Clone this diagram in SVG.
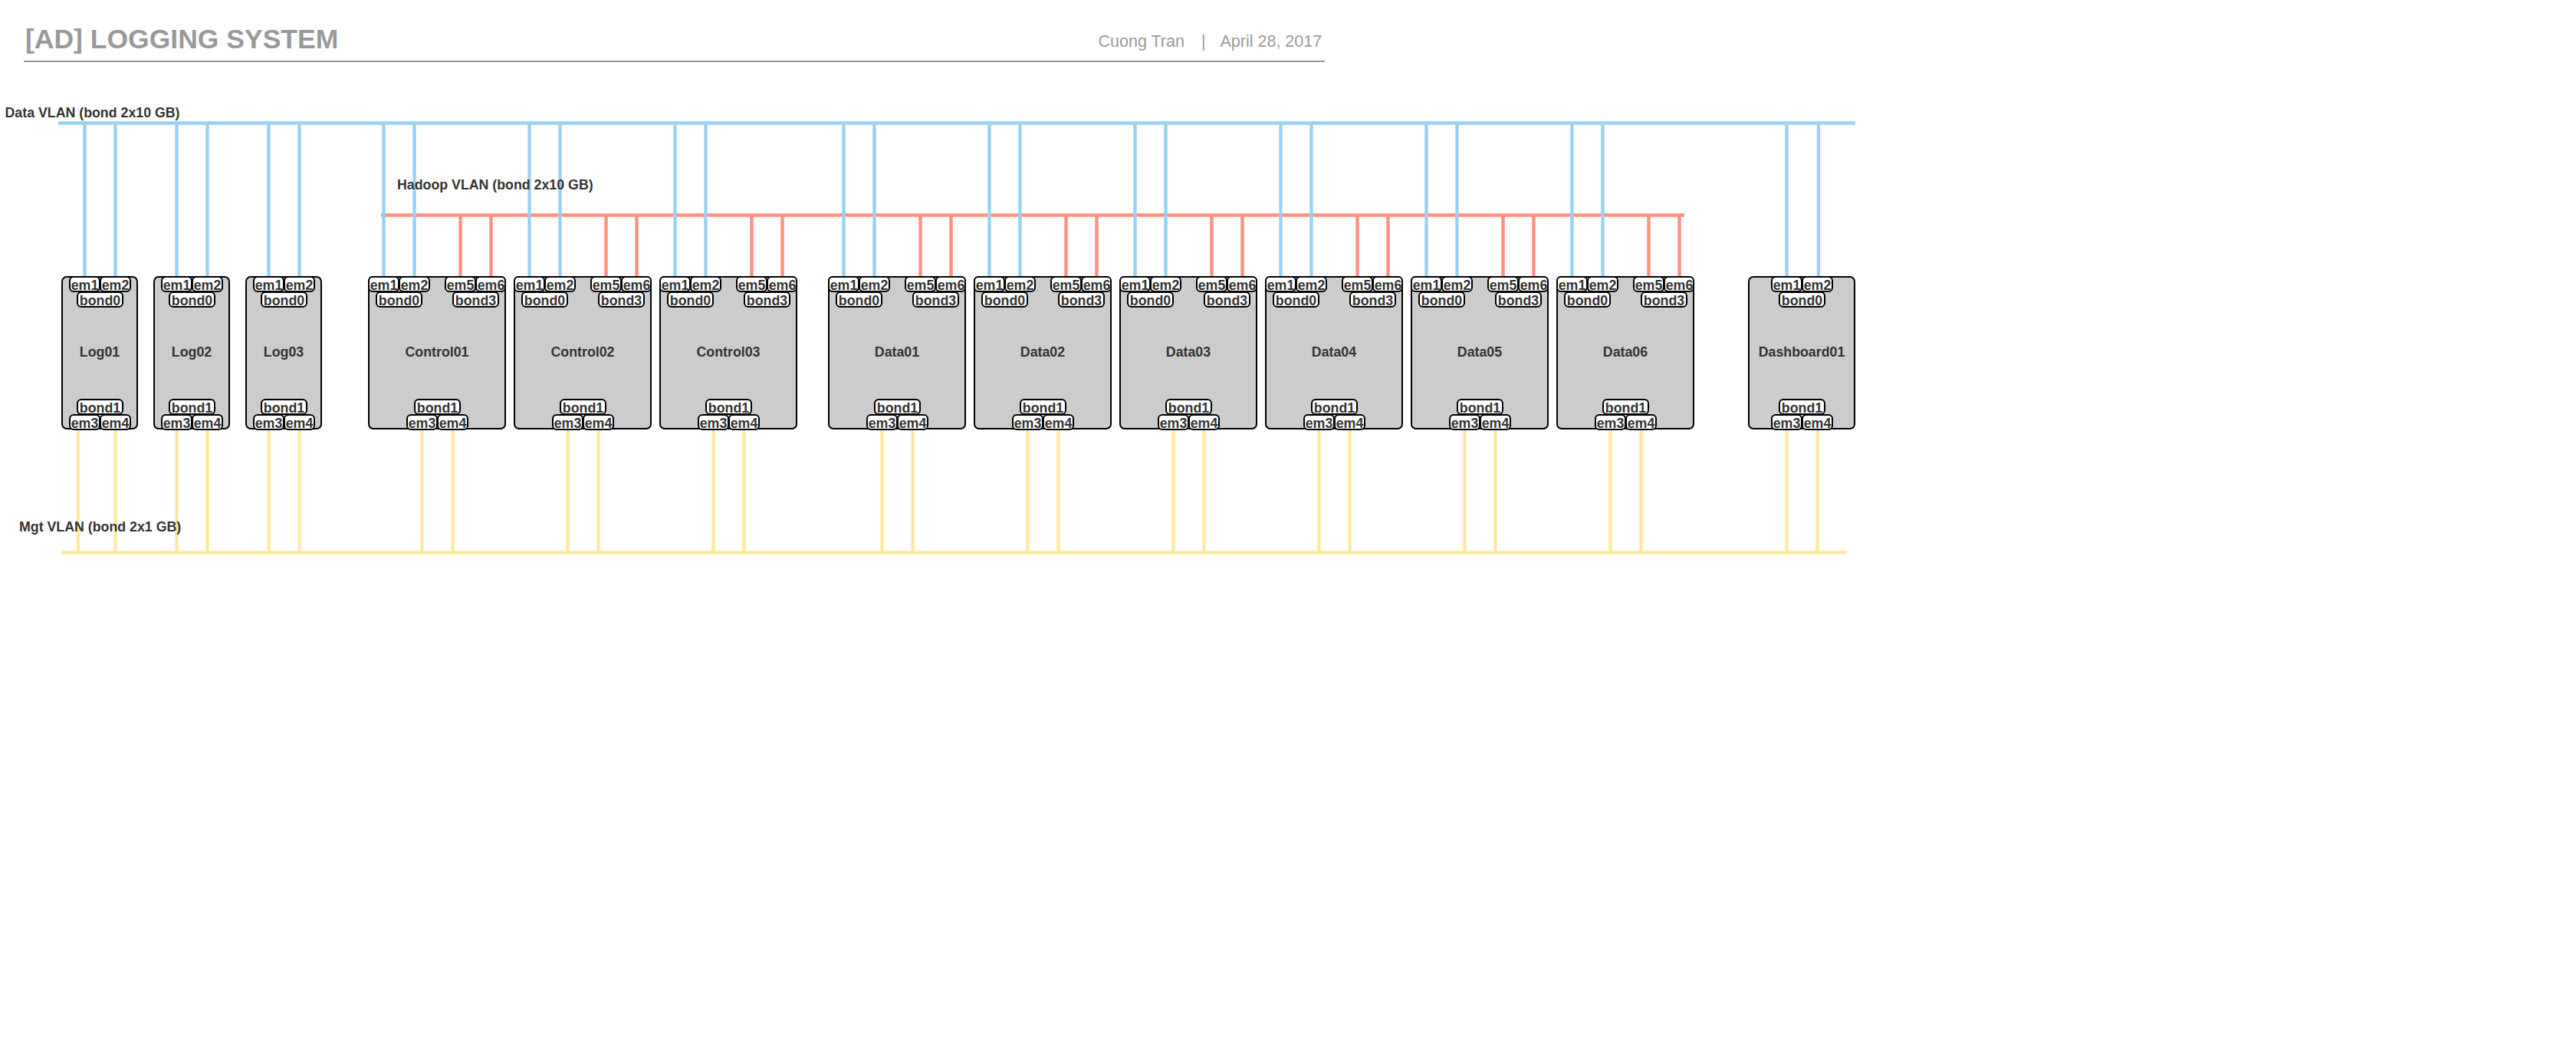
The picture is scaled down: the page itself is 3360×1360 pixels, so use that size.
<svg xmlns="http://www.w3.org/2000/svg" width="3360" height="1360" viewBox="0 0 3360 1360">
<style>
.title{font-family:"Liberation Sans",Arial,sans-serif;font-weight:bold;font-size:35.5px;fill:#999999}
.sub{font-family:"Liberation Sans",Arial,sans-serif;font-size:21.5px;fill:#999999}
.vl{font-family:"Liberation Sans",Arial,sans-serif;font-weight:bold;font-size:17.78px;fill:#333333}
.node{fill:#cccccc;stroke:#000000;stroke-width:2}
.port{fill:#ffffff;stroke:#000000;stroke-width:2}
.pt{font-family:"Liberation Sans",Arial,sans-serif;font-weight:bold;font-size:17.78px;fill:#333333;text-anchor:middle}
.nl{font-family:"Liberation Sans",Arial,sans-serif;font-weight:bold;font-size:17.78px;fill:#333333;text-anchor:middle}
.blue{stroke:#99D1F2;stroke-width:4.4;fill:none}
.red{stroke:#FF9080;stroke-width:4.4;fill:none}
.yel{stroke:#FFE89E;stroke-width:4.4;fill:none}
.bus{stroke-width:4.5}
</style>
<rect width="3360" height="1360" fill="#ffffff"/>
<g id="header">
<text class="title" x="33" y="63">[AD] LOGGING SYSTEM</text>
<text class="sub" y="60.5"><tspan x="1432.5">Cuong Tran </tspan><tspan x="1567">| </tspan><tspan x="1591.5">April 28, 2017</tspan></text>
<line x1="31" y1="80" x2="1728" y2="80" stroke="#999999" stroke-width="2"/>
</g>
<g id="connectors">
<line class="red bus" x1="497" y1="280.5" x2="2197" y2="280.5"/>
<line class="blue bus" x1="76" y1="160.5" x2="2420" y2="160.5"/>
<line class="yel bus" x1="80" y1="720.5" x2="2409" y2="720.5"/>
<g class="red">
<line x1="600.5" y1="280" x2="600.5" y2="361"/><line x1="640.5" y1="280" x2="640.5" y2="361"/>
<line x1="790.5" y1="280" x2="790.5" y2="361"/><line x1="830.5" y1="280" x2="830.5" y2="361"/>
<line x1="980.5" y1="280" x2="980.5" y2="361"/><line x1="1020.5" y1="280" x2="1020.5" y2="361"/>
<line x1="1200.5" y1="280" x2="1200.5" y2="361"/><line x1="1240.5" y1="280" x2="1240.5" y2="361"/>
<line x1="1390.5" y1="280" x2="1390.5" y2="361"/><line x1="1430.5" y1="280" x2="1430.5" y2="361"/>
<line x1="1580.5" y1="280" x2="1580.5" y2="361"/><line x1="1620.5" y1="280" x2="1620.5" y2="361"/>
<line x1="1770.5" y1="280" x2="1770.5" y2="361"/><line x1="1810.5" y1="280" x2="1810.5" y2="361"/>
<line x1="1960.5" y1="280" x2="1960.5" y2="361"/><line x1="2000.5" y1="280" x2="2000.5" y2="361"/>
<line x1="2150.5" y1="280" x2="2150.5" y2="361"/><line x1="2190.5" y1="280" x2="2190.5" y2="361"/>
</g>
<g class="blue">
<line x1="110.5" y1="160" x2="110.5" y2="361"/><line x1="150.5" y1="160" x2="150.5" y2="361"/>
<line x1="230.5" y1="160" x2="230.5" y2="361"/><line x1="270.5" y1="160" x2="270.5" y2="361"/>
<line x1="350.5" y1="160" x2="350.5" y2="361"/><line x1="390.5" y1="160" x2="390.5" y2="361"/>
<line x1="500.5" y1="160" x2="500.5" y2="361"/><line x1="540.5" y1="160" x2="540.5" y2="361"/>
<line x1="690.5" y1="160" x2="690.5" y2="361"/><line x1="730.5" y1="160" x2="730.5" y2="361"/>
<line x1="880.5" y1="160" x2="880.5" y2="361"/><line x1="920.5" y1="160" x2="920.5" y2="361"/>
<line x1="1100.5" y1="160" x2="1100.5" y2="361"/><line x1="1140.5" y1="160" x2="1140.5" y2="361"/>
<line x1="1290.5" y1="160" x2="1290.5" y2="361"/><line x1="1330.5" y1="160" x2="1330.5" y2="361"/>
<line x1="1480.5" y1="160" x2="1480.5" y2="361"/><line x1="1520.5" y1="160" x2="1520.5" y2="361"/>
<line x1="1670.5" y1="160" x2="1670.5" y2="361"/><line x1="1710.5" y1="160" x2="1710.5" y2="361"/>
<line x1="1860.5" y1="160" x2="1860.5" y2="361"/><line x1="1900.5" y1="160" x2="1900.5" y2="361"/>
<line x1="2050.5" y1="160" x2="2050.5" y2="361"/><line x1="2090.5" y1="160" x2="2090.5" y2="361"/>
<line x1="2330.5" y1="160" x2="2330.5" y2="361"/><line x1="2372" y1="160" x2="2372" y2="361"/>
</g>
<g class="yel">
<line x1="102" y1="559" x2="102" y2="720"/><line x1="150.5" y1="559" x2="150.5" y2="720"/>
<line x1="230.5" y1="559" x2="230.5" y2="720"/><line x1="270.5" y1="559" x2="270.5" y2="720"/>
<line x1="350.5" y1="559" x2="350.5" y2="720"/><line x1="390.5" y1="559" x2="390.5" y2="720"/>
<line x1="550.5" y1="559" x2="550.5" y2="720"/><line x1="590.5" y1="559" x2="590.5" y2="720"/>
<line x1="740.5" y1="559" x2="740.5" y2="720"/><line x1="780.5" y1="559" x2="780.5" y2="720"/>
<line x1="930.5" y1="559" x2="930.5" y2="720"/><line x1="970.5" y1="559" x2="970.5" y2="720"/>
<line x1="1150.5" y1="559" x2="1150.5" y2="720"/><line x1="1190.5" y1="559" x2="1190.5" y2="720"/>
<line x1="1340.5" y1="559" x2="1340.5" y2="720"/><line x1="1380.5" y1="559" x2="1380.5" y2="720"/>
<line x1="1530.5" y1="559" x2="1530.5" y2="720"/><line x1="1570.5" y1="559" x2="1570.5" y2="720"/>
<line x1="1720.5" y1="559" x2="1720.5" y2="720"/><line x1="1760.5" y1="559" x2="1760.5" y2="720"/>
<line x1="1910.5" y1="559" x2="1910.5" y2="720"/><line x1="1950.5" y1="559" x2="1950.5" y2="720"/>
<line x1="2100.5" y1="559" x2="2100.5" y2="720"/><line x1="2140.5" y1="559" x2="2140.5" y2="720"/>
<line x1="2330.5" y1="559" x2="2330.5" y2="720"/><line x1="2370.5" y1="559" x2="2370.5" y2="720"/>
</g>
</g>
<g id="vlan-labels">
<text class="vl" x="6.5" y="153.3">Data VLAN (bond 2x10 GB)</text>
<text class="vl" x="518" y="247.3">Hadoop VLAN (bond 2x10 GB)</text>
<text class="vl" x="25" y="693">Mgt VLAN (bond 2x1 GB)</text>
</g>
<g id="Log01">
<rect class="node" x="81" y="361" width="98" height="198" rx="6"/>
<rect class="port" x="91" y="361" width="39" height="19" rx="5"/><text class="pt" x="110.5" y="377.5">em1</text>
<rect class="port" x="131" y="361" width="39" height="19" rx="5"/><text class="pt" x="150.5" y="377.5">em2</text>
<rect class="port" x="101" y="381" width="59" height="19" rx="5"/><text class="pt" x="130.5" y="397.5">bond0</text>
<text class="nl" x="130" y="464.5">Log01</text>
<rect class="port" x="101" y="521" width="59" height="19" rx="5"/><text class="pt" x="130.5" y="537.5">bond1</text>
<rect class="port" x="91" y="541" width="39" height="19" rx="5"/><text class="pt" x="110.5" y="557.5">em3</text>
<rect class="port" x="131" y="541" width="39" height="19" rx="5"/><text class="pt" x="150.5" y="557.5">em4</text>
</g>
<g id="Log02">
<rect class="node" x="201" y="361" width="98" height="198" rx="6"/>
<rect class="port" x="211" y="361" width="39" height="19" rx="5"/><text class="pt" x="230.5" y="377.5">em1</text>
<rect class="port" x="251" y="361" width="39" height="19" rx="5"/><text class="pt" x="270.5" y="377.5">em2</text>
<rect class="port" x="221" y="381" width="59" height="19" rx="5"/><text class="pt" x="250.5" y="397.5">bond0</text>
<text class="nl" x="250" y="464.5">Log02</text>
<rect class="port" x="221" y="521" width="59" height="19" rx="5"/><text class="pt" x="250.5" y="537.5">bond1</text>
<rect class="port" x="211" y="541" width="39" height="19" rx="5"/><text class="pt" x="230.5" y="557.5">em3</text>
<rect class="port" x="251" y="541" width="39" height="19" rx="5"/><text class="pt" x="270.5" y="557.5">em4</text>
</g>
<g id="Log03">
<rect class="node" x="321" y="361" width="98" height="198" rx="6"/>
<rect class="port" x="331" y="361" width="39" height="19" rx="5"/><text class="pt" x="350.5" y="377.5">em1</text>
<rect class="port" x="371" y="361" width="39" height="19" rx="5"/><text class="pt" x="390.5" y="377.5">em2</text>
<rect class="port" x="341" y="381" width="59" height="19" rx="5"/><text class="pt" x="370.5" y="397.5">bond0</text>
<text class="nl" x="370" y="464.5">Log03</text>
<rect class="port" x="341" y="521" width="59" height="19" rx="5"/><text class="pt" x="370.5" y="537.5">bond1</text>
<rect class="port" x="331" y="541" width="39" height="19" rx="5"/><text class="pt" x="350.5" y="557.5">em3</text>
<rect class="port" x="371" y="541" width="39" height="19" rx="5"/><text class="pt" x="390.5" y="557.5">em4</text>
</g>
<g id="Control01">
<rect class="node" x="481" y="361" width="178" height="198" rx="6"/>
<rect class="port" x="481" y="361" width="39" height="19" rx="5"/><text class="pt" x="500.5" y="377.5">em1</text>
<rect class="port" x="521" y="361" width="39" height="19" rx="5"/><text class="pt" x="540.5" y="377.5">em2</text>
<rect class="port" x="581" y="361" width="39" height="19" rx="5"/><text class="pt" x="600.5" y="377.5">em5</text>
<rect class="port" x="621" y="361" width="38" height="19" rx="5"/><text class="pt" x="640.5" y="377.5">em6</text>
<rect class="port" x="491" y="381" width="59" height="19" rx="5"/><text class="pt" x="520.5" y="397.5">bond0</text>
<rect class="port" x="591" y="381" width="59" height="19" rx="5"/><text class="pt" x="620.5" y="397.5">bond3</text>
<text class="nl" x="570" y="464.5">Control01</text>
<rect class="port" x="541" y="521" width="59" height="19" rx="5"/><text class="pt" x="570.5" y="537.5">bond1</text>
<rect class="port" x="531" y="541" width="39" height="19" rx="5"/><text class="pt" x="550.5" y="557.5">em3</text>
<rect class="port" x="571" y="541" width="39" height="19" rx="5"/><text class="pt" x="590.5" y="557.5">em4</text>
</g>
<g id="Control02">
<rect class="node" x="671" y="361" width="178" height="198" rx="6"/>
<rect class="port" x="671" y="361" width="39" height="19" rx="5"/><text class="pt" x="690.5" y="377.5">em1</text>
<rect class="port" x="711" y="361" width="39" height="19" rx="5"/><text class="pt" x="730.5" y="377.5">em2</text>
<rect class="port" x="771" y="361" width="39" height="19" rx="5"/><text class="pt" x="790.5" y="377.5">em5</text>
<rect class="port" x="811" y="361" width="38" height="19" rx="5"/><text class="pt" x="830.5" y="377.5">em6</text>
<rect class="port" x="681" y="381" width="59" height="19" rx="5"/><text class="pt" x="710.5" y="397.5">bond0</text>
<rect class="port" x="781" y="381" width="59" height="19" rx="5"/><text class="pt" x="810.5" y="397.5">bond3</text>
<text class="nl" x="760" y="464.5">Control02</text>
<rect class="port" x="731" y="521" width="59" height="19" rx="5"/><text class="pt" x="760.5" y="537.5">bond1</text>
<rect class="port" x="721" y="541" width="39" height="19" rx="5"/><text class="pt" x="740.5" y="557.5">em3</text>
<rect class="port" x="761" y="541" width="39" height="19" rx="5"/><text class="pt" x="780.5" y="557.5">em4</text>
</g>
<g id="Control03">
<rect class="node" x="861" y="361" width="178" height="198" rx="6"/>
<rect class="port" x="861" y="361" width="39" height="19" rx="5"/><text class="pt" x="880.5" y="377.5">em1</text>
<rect class="port" x="901" y="361" width="39" height="19" rx="5"/><text class="pt" x="920.5" y="377.5">em2</text>
<rect class="port" x="961" y="361" width="39" height="19" rx="5"/><text class="pt" x="980.5" y="377.5">em5</text>
<rect class="port" x="1001" y="361" width="38" height="19" rx="5"/><text class="pt" x="1020.5" y="377.5">em6</text>
<rect class="port" x="871" y="381" width="59" height="19" rx="5"/><text class="pt" x="900.5" y="397.5">bond0</text>
<rect class="port" x="971" y="381" width="59" height="19" rx="5"/><text class="pt" x="1000.5" y="397.5">bond3</text>
<text class="nl" x="950" y="464.5">Control03</text>
<rect class="port" x="921" y="521" width="59" height="19" rx="5"/><text class="pt" x="950.5" y="537.5">bond1</text>
<rect class="port" x="911" y="541" width="39" height="19" rx="5"/><text class="pt" x="930.5" y="557.5">em3</text>
<rect class="port" x="951" y="541" width="39" height="19" rx="5"/><text class="pt" x="970.5" y="557.5">em4</text>
</g>
<g id="Data01">
<rect class="node" x="1081" y="361" width="178" height="198" rx="6"/>
<rect class="port" x="1081" y="361" width="39" height="19" rx="5"/><text class="pt" x="1100.5" y="377.5">em1</text>
<rect class="port" x="1121" y="361" width="39" height="19" rx="5"/><text class="pt" x="1140.5" y="377.5">em2</text>
<rect class="port" x="1181" y="361" width="39" height="19" rx="5"/><text class="pt" x="1200.5" y="377.5">em5</text>
<rect class="port" x="1221" y="361" width="38" height="19" rx="5"/><text class="pt" x="1240.5" y="377.5">em6</text>
<rect class="port" x="1091" y="381" width="59" height="19" rx="5"/><text class="pt" x="1120.5" y="397.5">bond0</text>
<rect class="port" x="1191" y="381" width="59" height="19" rx="5"/><text class="pt" x="1220.5" y="397.5">bond3</text>
<text class="nl" x="1170" y="464.5">Data01</text>
<rect class="port" x="1141" y="521" width="59" height="19" rx="5"/><text class="pt" x="1170.5" y="537.5">bond1</text>
<rect class="port" x="1131" y="541" width="39" height="19" rx="5"/><text class="pt" x="1150.5" y="557.5">em3</text>
<rect class="port" x="1171" y="541" width="39" height="19" rx="5"/><text class="pt" x="1190.5" y="557.5">em4</text>
</g>
<g id="Data02">
<rect class="node" x="1271" y="361" width="178" height="198" rx="6"/>
<rect class="port" x="1271" y="361" width="39" height="19" rx="5"/><text class="pt" x="1290.5" y="377.5">em1</text>
<rect class="port" x="1311" y="361" width="39" height="19" rx="5"/><text class="pt" x="1330.5" y="377.5">em2</text>
<rect class="port" x="1371" y="361" width="39" height="19" rx="5"/><text class="pt" x="1390.5" y="377.5">em5</text>
<rect class="port" x="1411" y="361" width="38" height="19" rx="5"/><text class="pt" x="1430.5" y="377.5">em6</text>
<rect class="port" x="1281" y="381" width="59" height="19" rx="5"/><text class="pt" x="1310.5" y="397.5">bond0</text>
<rect class="port" x="1381" y="381" width="59" height="19" rx="5"/><text class="pt" x="1410.5" y="397.5">bond3</text>
<text class="nl" x="1360" y="464.5">Data02</text>
<rect class="port" x="1331" y="521" width="59" height="19" rx="5"/><text class="pt" x="1360.5" y="537.5">bond1</text>
<rect class="port" x="1321" y="541" width="39" height="19" rx="5"/><text class="pt" x="1340.5" y="557.5">em3</text>
<rect class="port" x="1361" y="541" width="39" height="19" rx="5"/><text class="pt" x="1380.5" y="557.5">em4</text>
</g>
<g id="Data03">
<rect class="node" x="1461" y="361" width="178" height="198" rx="6"/>
<rect class="port" x="1461" y="361" width="39" height="19" rx="5"/><text class="pt" x="1480.5" y="377.5">em1</text>
<rect class="port" x="1501" y="361" width="39" height="19" rx="5"/><text class="pt" x="1520.5" y="377.5">em2</text>
<rect class="port" x="1561" y="361" width="39" height="19" rx="5"/><text class="pt" x="1580.5" y="377.5">em5</text>
<rect class="port" x="1601" y="361" width="38" height="19" rx="5"/><text class="pt" x="1620.5" y="377.5">em6</text>
<rect class="port" x="1471" y="381" width="59" height="19" rx="5"/><text class="pt" x="1500.5" y="397.5">bond0</text>
<rect class="port" x="1571" y="381" width="59" height="19" rx="5"/><text class="pt" x="1600.5" y="397.5">bond3</text>
<text class="nl" x="1550" y="464.5">Data03</text>
<rect class="port" x="1521" y="521" width="59" height="19" rx="5"/><text class="pt" x="1550.5" y="537.5">bond1</text>
<rect class="port" x="1511" y="541" width="39" height="19" rx="5"/><text class="pt" x="1530.5" y="557.5">em3</text>
<rect class="port" x="1551" y="541" width="39" height="19" rx="5"/><text class="pt" x="1570.5" y="557.5">em4</text>
</g>
<g id="Data04">
<rect class="node" x="1651" y="361" width="178" height="198" rx="6"/>
<rect class="port" x="1651" y="361" width="39" height="19" rx="5"/><text class="pt" x="1670.5" y="377.5">em1</text>
<rect class="port" x="1691" y="361" width="39" height="19" rx="5"/><text class="pt" x="1710.5" y="377.5">em2</text>
<rect class="port" x="1751" y="361" width="39" height="19" rx="5"/><text class="pt" x="1770.5" y="377.5">em5</text>
<rect class="port" x="1791" y="361" width="38" height="19" rx="5"/><text class="pt" x="1810.5" y="377.5">em6</text>
<rect class="port" x="1661" y="381" width="59" height="19" rx="5"/><text class="pt" x="1690.5" y="397.5">bond0</text>
<rect class="port" x="1761" y="381" width="59" height="19" rx="5"/><text class="pt" x="1790.5" y="397.5">bond3</text>
<text class="nl" x="1740" y="464.5">Data04</text>
<rect class="port" x="1711" y="521" width="59" height="19" rx="5"/><text class="pt" x="1740.5" y="537.5">bond1</text>
<rect class="port" x="1701" y="541" width="39" height="19" rx="5"/><text class="pt" x="1720.5" y="557.5">em3</text>
<rect class="port" x="1741" y="541" width="39" height="19" rx="5"/><text class="pt" x="1760.5" y="557.5">em4</text>
</g>
<g id="Data05">
<rect class="node" x="1841" y="361" width="178" height="198" rx="6"/>
<rect class="port" x="1841" y="361" width="39" height="19" rx="5"/><text class="pt" x="1860.5" y="377.5">em1</text>
<rect class="port" x="1881" y="361" width="39" height="19" rx="5"/><text class="pt" x="1900.5" y="377.5">em2</text>
<rect class="port" x="1941" y="361" width="39" height="19" rx="5"/><text class="pt" x="1960.5" y="377.5">em5</text>
<rect class="port" x="1981" y="361" width="38" height="19" rx="5"/><text class="pt" x="2000.5" y="377.5">em6</text>
<rect class="port" x="1851" y="381" width="59" height="19" rx="5"/><text class="pt" x="1880.5" y="397.5">bond0</text>
<rect class="port" x="1951" y="381" width="59" height="19" rx="5"/><text class="pt" x="1980.5" y="397.5">bond3</text>
<text class="nl" x="1930" y="464.5">Data05</text>
<rect class="port" x="1901" y="521" width="59" height="19" rx="5"/><text class="pt" x="1930.5" y="537.5">bond1</text>
<rect class="port" x="1891" y="541" width="39" height="19" rx="5"/><text class="pt" x="1910.5" y="557.5">em3</text>
<rect class="port" x="1931" y="541" width="39" height="19" rx="5"/><text class="pt" x="1950.5" y="557.5">em4</text>
</g>
<g id="Data06">
<rect class="node" x="2031" y="361" width="178" height="198" rx="6"/>
<rect class="port" x="2031" y="361" width="39" height="19" rx="5"/><text class="pt" x="2050.5" y="377.5">em1</text>
<rect class="port" x="2071" y="361" width="39" height="19" rx="5"/><text class="pt" x="2090.5" y="377.5">em2</text>
<rect class="port" x="2131" y="361" width="39" height="19" rx="5"/><text class="pt" x="2150.5" y="377.5">em5</text>
<rect class="port" x="2171" y="361" width="38" height="19" rx="5"/><text class="pt" x="2190.5" y="377.5">em6</text>
<rect class="port" x="2041" y="381" width="59" height="19" rx="5"/><text class="pt" x="2070.5" y="397.5">bond0</text>
<rect class="port" x="2141" y="381" width="59" height="19" rx="5"/><text class="pt" x="2170.5" y="397.5">bond3</text>
<text class="nl" x="2120" y="464.5">Data06</text>
<rect class="port" x="2091" y="521" width="59" height="19" rx="5"/><text class="pt" x="2120.5" y="537.5">bond1</text>
<rect class="port" x="2081" y="541" width="39" height="19" rx="5"/><text class="pt" x="2100.5" y="557.5">em3</text>
<rect class="port" x="2121" y="541" width="39" height="19" rx="5"/><text class="pt" x="2140.5" y="557.5">em4</text>
</g>
<g id="Dashboard01">
<rect class="node" x="2281" y="361" width="138" height="198" rx="6"/>
<rect class="port" x="2311" y="361" width="39" height="19" rx="5"/><text class="pt" x="2330.5" y="377.5">em1</text>
<rect class="port" x="2351" y="361" width="39" height="19" rx="5"/><text class="pt" x="2370.5" y="377.5">em2</text>
<rect class="port" x="2321" y="381" width="59" height="19" rx="5"/><text class="pt" x="2350.5" y="397.5">bond0</text>
<text class="nl" x="2350" y="464.5">Dashboard01</text>
<rect class="port" x="2321" y="521" width="59" height="19" rx="5"/><text class="pt" x="2350.5" y="537.5">bond1</text>
<rect class="port" x="2311" y="541" width="39" height="19" rx="5"/><text class="pt" x="2330.5" y="557.5">em3</text>
<rect class="port" x="2351" y="541" width="39" height="19" rx="5"/><text class="pt" x="2370.5" y="557.5">em4</text>
</g>
</svg>
